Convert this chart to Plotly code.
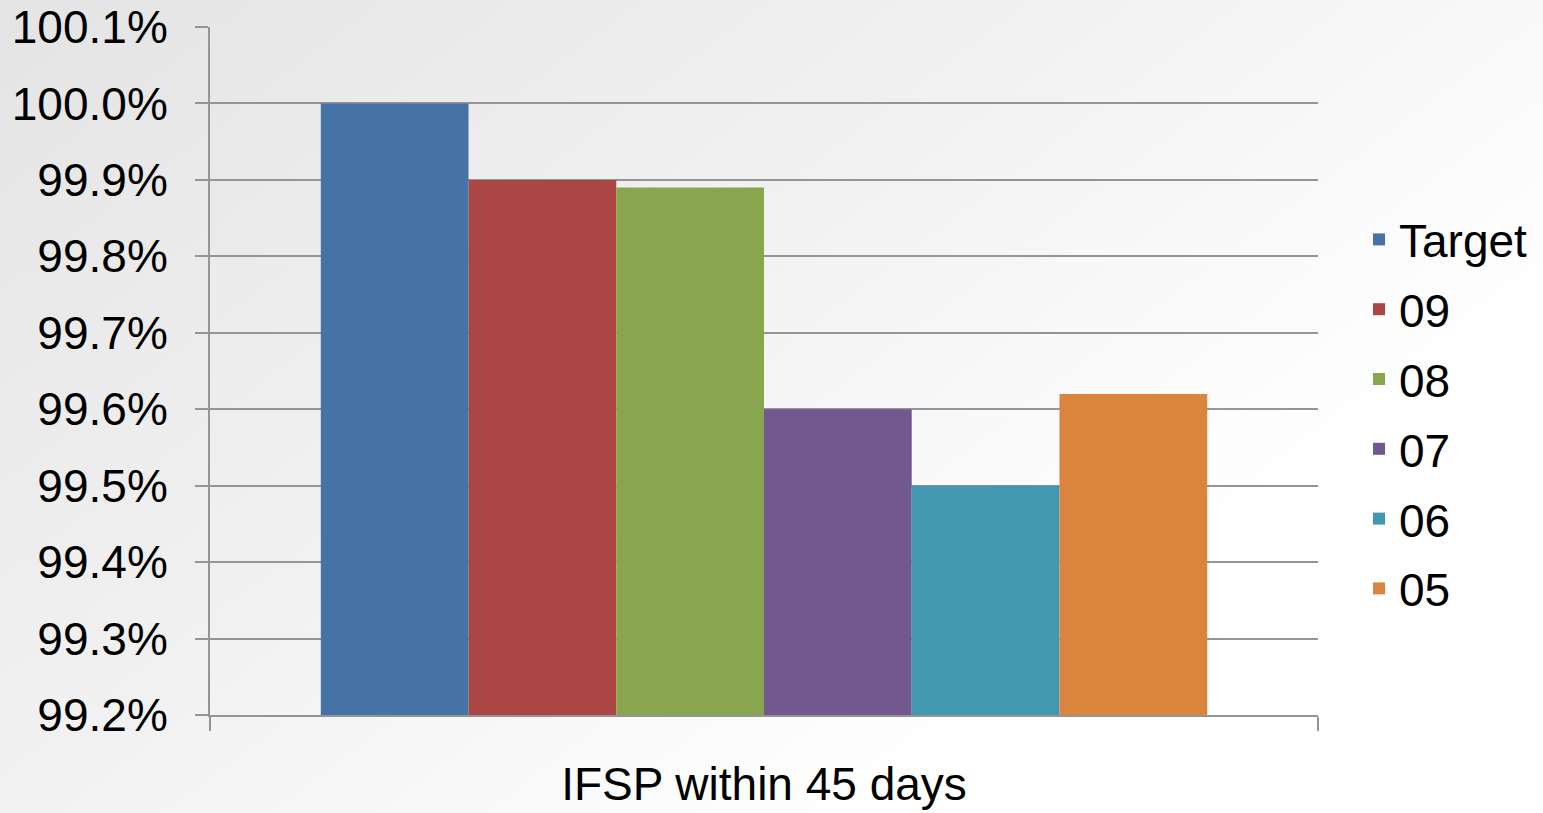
import base64
import plotly.graph_objects as go

category = ["IFSP within 45 days"]
series_names = ["Target", "09", "08", "07", "06", "05"]
series_values = [100.0, 99.9, 99.89, 99.6, 99.5, 99.62]
series_colors = ["#4572A7", "#AA4643", "#89A54E", "#71588F", "#4198AF", "#DB843D"]

font = "Liberation Sans, Arial, sans-serif"

# soft grey-to-white slide background
svg = (
    '<svg xmlns="http://www.w3.org/2000/svg" width="1543" height="813" preserveAspectRatio="none">'
    '<defs><linearGradient id="g" x1="0" y1="0" x2="1" y2="0.7">'
    '<stop offset="0" stop-color="#e4e4e4"/><stop offset="0.45" stop-color="#f1f1f1"/>'
    '<stop offset="0.85" stop-color="#ffffff"/></linearGradient></defs>'
    '<rect width="1543" height="813" fill="url(#g)"/></svg>'
)
bg_src = "data:image/svg+xml;base64," + base64.b64encode(svg.encode()).decode()

fig = go.Figure()
for name, val, col in zip(series_names, series_values, series_colors):
    fig.add_trace(go.Bar(x=category, y=[val], name=name, legendgroup=name,
                         marker=dict(color=col, line=dict(width=0))))

L, R, T, B = 210, 225, 27, 98
pw, ph = 1543 - L - R, 813 - T - B

fig.add_layout_image(
    source=bg_src, xref="paper", yref="paper",
    x=-L / pw, y=1 + T / ph, sizex=1543 / pw, sizey=813 / ph,
    xanchor="left", yanchor="top", sizing="stretch", layer="below",
)

fig.update_layout(
    barmode="group",
    bargap=0.2,
    bargroupgap=0,
    width=1543,
    height=813,
    margin=dict(l=L, r=R, t=T, b=B, autoexpand=False),
    paper_bgcolor="#ffffff",
    plot_bgcolor="rgba(0,0,0,0)",
    font=dict(family=font, size=46, color="#000000"),
    legend=dict(
        x=1.037, y=0.4375, xanchor="left", yanchor="middle",
        font=dict(size=46), bgcolor="rgba(0,0,0,0)", tracegroupgap=7,
    ),
)

fig.update_yaxes(
    range=[99.2, 100.1],
    dtick=0.1,
    tickformat=".1f",
    ticksuffix="%",
    showgrid=True,
    gridcolor="#959595",
    gridwidth=2,
    showline=True,
    linecolor="#959595",
    linewidth=2,
    ticks="outside",
    ticklen=13,
    tickcolor="#959595",
    tickwidth=2,
    tickfont=dict(size=46),
    ticklabelstandoff=18,
    automargin=False,
    zeroline=False,
)
fig.update_xaxes(
    showline=True,
    linecolor="#959595",
    linewidth=2,
    ticks="outside",
    tickson="boundaries",
    ticklen=14,
    tickcolor="#959595",
    tickwidth=2,
    tickfont=dict(size=46),
    ticklabelstandoff=28,
    automargin=False,
    showgrid=False,
)

fig.write_html("out.html", config={"displayModeBar": False},
               post_script="document.body.style.margin='0';")
